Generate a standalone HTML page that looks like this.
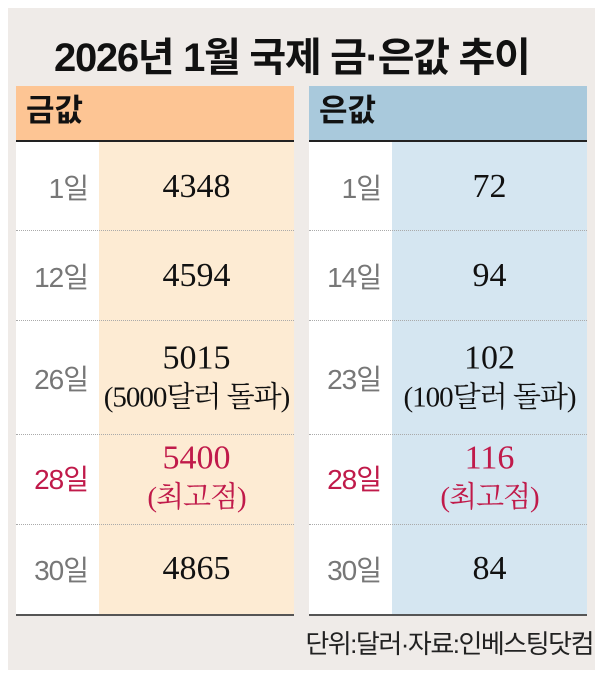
<!DOCTYPE html>
<html><head><meta charset="utf-8"><style>
body{margin:0;width:602px;height:683px;background:#fff;position:relative;overflow:hidden;font-family:"Liberation Sans","Noto Sans CJK KR",sans-serif}
.panel{position:absolute;left:8px;top:8px;width:587px;height:662px;background:#efebe8}
.title{position:absolute;left:54px;top:25px;font-size:40px;font-weight:bold;letter-spacing:-1.3px;color:#111;white-space:nowrap}
.tbl{position:absolute;top:86px;height:530px;background:#fff}
.hdr{position:absolute;left:0;top:0;right:0;height:54px;border-bottom:2px solid #222;font-size:31px;font-weight:bold;padding-left:10px;line-height:50px;color:#111}
.vcol{position:absolute;top:56px;bottom:2px}
.bot{position:absolute;left:0;right:0;bottom:0;height:2px;background:#555}
.dot{position:absolute;left:0;right:0;border-top:1px dotted #aaa}
.day{position:absolute;right:0;width:84px;text-align:right;font-size:28px;color:#777;transform:translateY(-50%);letter-spacing:-1px}
.val{position:absolute;text-align:center;font-family:"Liberation Serif","Noto Serif CJK SC",serif;font-size:34px;color:#111;transform:translateY(-50%);line-height:38px;white-space:nowrap}
.sm{font-size:29px;letter-spacing:-1px}
.red{color:#c01a4a}
.foot{position:absolute;right:9px;top:624px;font-size:26px;color:#222;letter-spacing:-1.5px;white-space:nowrap}
</style></head><body>
<div class="panel"></div>
<div class="title">2026년 1월 국제 금·은값 추이</div>

<div class="tbl" style="left:16px;width:278px">
 <div class="vcol" style="left:83px;right:0;background:#fdebd3"></div>
 <div class="hdr" style="background:#fdc594">금값</div>
 <div class="dot" style="top:144px"></div><div class="dot" style="top:234px"></div><div class="dot" style="top:348px"></div><div class="dot" style="top:438px"></div>
 <div class="bot"></div>
</div>
<div class="tbl" style="left:309px;width:278px">
 <div class="vcol" style="left:83px;right:0;background:#d5e6f1"></div>
 <div class="hdr" style="background:#a9c9dc">은값</div>
 <div class="dot" style="top:144px"></div><div class="dot" style="top:234px"></div><div class="dot" style="top:348px"></div><div class="dot" style="top:438px"></div>
 <div class="bot"></div>
</div>

<div class="day" style="left:4px;top:187px">1일</div>
<div class="day" style="left:4px;top:276px">12일</div>
<div class="day" style="left:4px;top:378px">26일</div>
<div class="day red" style="left:4px;top:478px">28일</div>
<div class="day" style="left:4px;top:569px">30일</div>
<div class="val" style="left:99px;width:195px;top:187px">4348</div>
<div class="val" style="left:99px;width:195px;top:276px">4594</div>
<div class="val" style="left:99px;width:195px;top:378px">5015<br><span class="sm">(5000달러 돌파)</span></div>
<div class="val red" style="left:99px;width:195px;top:478px">5400<br><span class="sm">(최고점)</span></div>
<div class="val" style="left:99px;width:195px;top:569px">4865</div>

<div class="day" style="left:297px;top:187px">1일</div>
<div class="day" style="left:297px;top:276px">14일</div>
<div class="day" style="left:297px;top:378px">23일</div>
<div class="day red" style="left:297px;top:478px">28일</div>
<div class="day" style="left:297px;top:569px">30일</div>
<div class="val" style="left:392px;width:195px;top:187px">72</div>
<div class="val" style="left:392px;width:195px;top:276px">94</div>
<div class="val" style="left:392px;width:195px;top:378px">102<br><span class="sm">(100달러 돌파)</span></div>
<div class="val red" style="left:392px;width:195px;top:478px">116<br><span class="sm">(최고점)</span></div>
<div class="val" style="left:392px;width:195px;top:569px">84</div>

<div class="foot">단위:달러·자료:인베스팅닷컴</div>
</body></html>
